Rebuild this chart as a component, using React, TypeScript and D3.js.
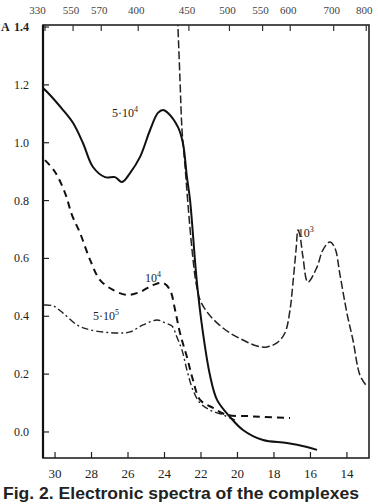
import React from 'react'
import * as d3 from 'd3'

// wavenumber, 10^3 cm^-1  /  absorbance A
type Pt = [number, number]

const solid54: Pt[] = [
  [30.66, 1.189], [30.38, 1.172], [29.56, 1.113], [29.01, 1.068], [28.47, 0.999],
  [27.92, 0.916], [27.26, 0.881], [26.71, 0.881], [26.33, 0.864], [25.89, 0.895],
  [25.34, 0.951], [24.79, 1.044], [24.36, 1.103], [24.08, 1.113], [23.81, 1.103],
  [23.26, 1.054], [22.99, 0.999], [22.77, 0.881], [22.6, 0.802], [22.22, 0.515],
  [21.89, 0.342], [21.51, 0.197], [21.12, 0.111], [20.41, 0.052], [19.7, 0.007],
  [18.6, -0.028], [17.29, -0.038], [16.19, -0.052], [15.64, -0.062]
]

const dashed4: Pt[] = [
  [30.55, 0.94], [30.0, 0.899], [29.45, 0.826], [29.07, 0.75], [28.63, 0.688],
  [28.08, 0.595], [27.53, 0.525], [26.82, 0.491], [26.05, 0.474], [25.34, 0.484],
  [24.63, 0.508], [24.08, 0.515], [23.7, 0.491], [23.42, 0.422], [23.15, 0.342],
  [22.77, 0.259], [22.44, 0.18], [22.05, 0.111], [21.34, 0.083], [20.58, 0.059],
  [19.48, 0.055], [18.6, 0.052], [17.12, 0.048]
]

const dashdot55: Pt[] = [
  [30.6, 0.439], [30.11, 0.436], [29.56, 0.411], [28.79, 0.37], [28.08, 0.353],
  [26.6, 0.342], [25.89, 0.346], [25.18, 0.37], [24.41, 0.387], [23.97, 0.377],
  [23.59, 0.366], [23.32, 0.328], [23.04, 0.283], [22.77, 0.214], [22.44, 0.145],
  [22.05, 0.1], [21.51, 0.076], [20.79, 0.059], [20.14, 0.041]
]

const thin3: Pt[] = [
  [23.28, 1.43], [23.15, 1.217], [23.04, 1.044], [22.88, 0.923], [22.71, 0.785],
  [22.49, 0.629], [22.27, 0.515], [22.05, 0.456], [21.67, 0.415], [21.12, 0.377],
  [20.41, 0.342], [19.7, 0.318], [18.93, 0.297], [18.38, 0.294], [17.84, 0.308],
  [17.4, 0.342], [17.12, 0.422], [16.96, 0.515], [16.79, 0.629], [16.68, 0.698],
  [16.58, 0.681], [16.41, 0.605], [16.14, 0.518], [15.64, 0.57], [15.32, 0.629],
  [14.93, 0.657], [14.66, 0.636], [14.38, 0.543], [14.0, 0.411], [13.67, 0.318],
  [13.29, 0.197], [12.96, 0.162]
]

const bottomTicks = [30, 28, 26, 24, 22, 20, 18, 16, 14]
const leftTicks = [0.0, 0.2, 0.4, 0.6, 0.8, 1.0, 1.2, 1.4]
const topNm = [330, 350, 370, 400, 450, 500, 550, 600, 700, 800]
const topLabels = ['330', '550', '570', '400', '450', '500', '550', '600', '700', '800']

const curveLabels = [
  { k: 26.88, a: 1.089, base: '5·10', sup: '4' },
  { k: 25.07, a: 0.518, base: '10', sup: '4' },
  { k: 27.92, a: 0.387, base: '5·10', sup: '5' },
  { k: 16.7, a: 0.674, base: '10', sup: '3' }
]

const W = 378
const H = 504
const plot = { left: 43, right: 369, top: 25, bottom: 458 }

export default function App() {
  const x = d3.scaleLinear().domain([30.66, 12.79]).range([plot.left, plot.right])
  const y = d3.scaleLinear().domain([-0.09, 1.407]).range([plot.bottom, plot.top])
  // top wavelength scale (scanned axis sits slightly offset)
  const xTop = (nm: number) => x(10000 / nm + 0.44)

  const line = d3.line<Pt>()
    .x(d => x(d[0]))
    .y(d => y(d[1]))
    .curve(d3.curveCatmullRom.alpha(0.5))

  const font = 'Liberation Serif, DejaVu Serif, serif'

  return (
    <svg width={W} height={H} style={{ position: 'absolute', left: 0, top: 0, background: '#fff' }}>
      <defs>
        <clipPath id="plotClip">
          <rect x={plot.left} y={plot.top} width={plot.right - plot.left} height={plot.bottom - plot.top} />
        </clipPath>
      </defs>

      {/* frame */}
      <rect x={plot.left} y={plot.top} width={plot.right - plot.left} height={plot.bottom - plot.top}
        fill="none" stroke="#222" strokeWidth={1.6} />
      <line x1={plot.left} x2={plot.left} y1={plot.top} y2={plot.bottom} stroke="#111" strokeWidth={2.2} />

      {/* bottom axis */}
      {bottomTicks.map(t => (
        <g key={'b' + t}>
          <line x1={x(t)} x2={x(t)} y1={plot.bottom} y2={plot.bottom - 6} stroke="#222" strokeWidth={1.2} />
          <text x={x(t)} y={plot.bottom + 20} textAnchor="middle" fontFamily={font} fontSize={13} fill="#222">{t}</text>
        </g>
      ))}

      {/* left axis */}
      {leftTicks.map(t => (
        <g key={'l' + t}>
          <line x1={plot.left} x2={plot.left + 6} y1={y(t)} y2={y(t)} stroke="#222" strokeWidth={1.2} />
          <text x={29} y={y(t) + 4} textAnchor="end" fontFamily={font} fontSize={12}
            fontWeight={t === 1.4 ? 'bold' : 'normal'} fill="#222">{t.toFixed(1)}</text>
        </g>
      ))}
      <text x={1} y={y(1.4) + 4} fontFamily={font} fontSize={12} fontWeight="bold" fill="#222">A</text>

      {/* top axis */}
      {topNm.map((nm, i) => (
        <g key={'t' + nm}>
          {xTop(nm) < plot.right - 2 && (
            <line x1={Math.max(xTop(nm), plot.left + 2)} x2={Math.max(xTop(nm), plot.left + 2)}
              y1={plot.top} y2={plot.top + 6} stroke="#333" strokeWidth={1.2} />
          )}
          <text x={i === 0 ? xTop(nm) - 4 : xTop(nm) - 2} y={14} textAnchor="middle" fontFamily={font}
            fontSize={11} fill="#444">{topLabels[i]}</text>
        </g>
      ))}

      {/* curves */}
      <g clipPath="url(#plotClip)" fill="none">
        <path d={line(thin3) || ''} stroke="#222" strokeWidth={1.5} strokeDasharray="8 3" />
        <path d={line(dashdot55) || ''} stroke="#222" strokeWidth={1.4} strokeDasharray="7 3 2 3" />
        <path d={line(dashed4) || ''} stroke="#111" strokeWidth={2} strokeDasharray="7 5" />
        <path d={line(solid54) || ''} stroke="#111" strokeWidth={2} />
      </g>

      {/* curve labels */}
      {curveLabels.map((l, i) => (
        <text key={'c' + i} x={x(l.k)} y={y(l.a)} fontFamily={font} fontSize={12} fill="#222">
          {l.base}
          <tspan fontSize={8} dy={-5}>{l.sup}</tspan>
        </text>
      ))}

      {/* caption */}
      <text x={3} y={499} fontFamily="Liberation Sans, Arial, sans-serif" fontSize={17} fontWeight="bold"
        fill="#222" textLength={356} lengthAdjust="spacingAndGlyphs">
        Fig. 2. Electronic spectra of the complexes
      </text>
    </svg>
  )
}
